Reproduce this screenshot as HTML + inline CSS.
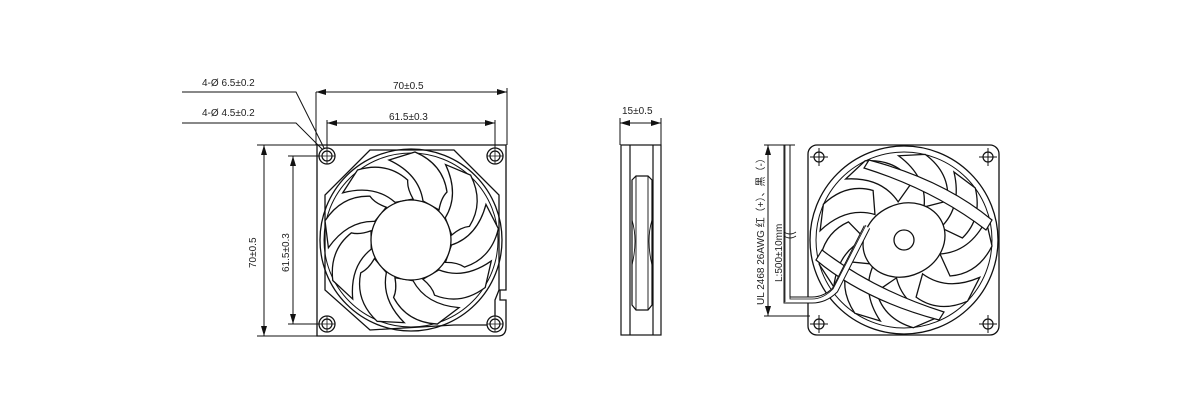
<!DOCTYPE html>
<html><head><style>
html,body{margin:0;padding:0;background:#fff;width:1182px;height:414px;overflow:hidden}
svg{display:block}
text{font-family:"Liberation Sans","Noto Sans CJK SC",sans-serif;font-size:10px;fill:#222}
</style></head><body>
<svg width="1182" height="414" viewBox="0 0 1182 414" xmlns="http://www.w3.org/2000/svg">
<defs>
<marker id="a" viewBox="0 0 10 6" refX="10" refY="3" markerWidth="10" markerHeight="6" orient="auto-start-reverse" markerUnits="userSpaceOnUse"><path d="M0,0L10,3L0,6Z" fill="#111"/></marker>
<path id="bl" d="M12,-39 Q8,-66 -22,-80 L4,-88 Q32,-76 36,-48 Q30,-42 28,-30 Z" fill="#fff" stroke="#111" stroke-width="1.3"/>
<g id="hole"><circle r="8" fill="#fff" stroke="#111" stroke-width="1.3"/><circle r="5" fill="none" stroke="#111" stroke-width="1.2"/><path d="M-8,0H8M0,-8V8" stroke="#111" stroke-width="0.8"/></g>
<g id="cross"><circle r="5" fill="#fff" stroke="#111" stroke-width="1.2"/><path d="M-9,0H9M0,-9V9" stroke="#111" stroke-width="1"/></g>
<path id="bl2" d="M14,-36 Q12,-66 -20,-82 L6,-88 Q34,-74 36,-46 Z" fill="#fff" stroke="#111" stroke-width="1.3"/>
</defs>
<g fill="none" stroke="#111" stroke-width="1">
<!-- left fan dims -->
<path d="M316,145V92M507,145V88M327,150V120M495,150V120"/>
<line x1="316" y1="92" x2="507" y2="92" marker-start="url(#a)" marker-end="url(#a)"/>
<line x1="327" y1="123" x2="495" y2="123" marker-start="url(#a)" marker-end="url(#a)"/>
<path d="M257,145H317M257,336H317M288,156H325M288,324H325"/>
<line x1="264" y1="145" x2="264" y2="336" marker-start="url(#a)" marker-end="url(#a)"/>
<line x1="293" y1="156" x2="293" y2="324" marker-start="url(#a)" marker-end="url(#a)"/>
<path d="M182,92H296L325,150M182,123H296L323,150"/>
<!-- frame -->
<path d="M317,145H506V290L500,290V300H506V327Q506,336 498,336H317Z" stroke-width="1.3"/>
<path d="M370,150H454L499,195V290L495,300V325H454L370,330L325,290V195Z" stroke-width="1.3"/>
<circle cx="411" cy="240" r="91" stroke-width="1.3"/>
<circle cx="411" cy="240" r="87" stroke-width="1"/>
</g>
<g transform="translate(411,240)">
<use href="#bl" transform="rotate(0)"/><use href="#bl" transform="rotate(40)"/><use href="#bl" transform="rotate(80)"/><use href="#bl" transform="rotate(120)"/><use href="#bl" transform="rotate(160)"/><use href="#bl" transform="rotate(200)"/><use href="#bl" transform="rotate(240)"/><use href="#bl" transform="rotate(280)"/><use href="#bl" transform="rotate(320)"/>
<circle r="40" fill="#fff" stroke="#111" stroke-width="1.3"/>
</g>
<use href="#hole" x="327" y="156"/><use href="#hole" x="495" y="156"/><use href="#hole" x="327" y="324"/><use href="#hole" x="495" y="324"/>
<text x="202" y="86">4-Ø 6.5±0.2</text>
<text x="202" y="116">4-Ø 4.5±0.2</text>
<text x="393" y="89">70±0.5</text>
<text x="389" y="120">61.5±0.3</text>
<text transform="translate(256,268) rotate(-90)">70±0.5</text>
<text transform="translate(289,272) rotate(-90)">61.5±0.3</text>
<!-- side view -->
<g fill="none" stroke="#111" stroke-width="1.2">
<rect x="621" y="145" width="40" height="190"/>
<path d="M630,145V335M653,145V335"/>
<path d="M632,180L636,176H648L652,180V305L648,310H636L632,305Z"/>
<path d="M636,176V310M648,176V310M632,220Q638,240 632,265M652,220Q646,240 652,265" stroke-width="0.9"/>
<path d="M620,145V118M661,145V118" stroke-width="1"/>
<line x1="620" y1="123" x2="661" y2="123" stroke-width="1" marker-start="url(#a)" marker-end="url(#a)"/>
</g>
<text x="622" y="114">15±0.5</text>
<!-- right fan -->
<g fill="none" stroke="#111" stroke-width="1.3">
<rect x="808" y="145" width="191" height="190" rx="9"/>
<circle cx="904" cy="240" r="94"/>
<circle cx="904" cy="240" r="88" stroke-width="1"/>
</g>
<g transform="translate(904,240)">
<use href="#bl2" transform="rotate(10)"/><use href="#bl2" transform="rotate(50)"/><use href="#bl2" transform="rotate(90)"/><use href="#bl2" transform="rotate(130)"/><use href="#bl2" transform="rotate(170)"/><use href="#bl2" transform="rotate(210)"/><use href="#bl2" transform="rotate(250)"/><use href="#bl2" transform="rotate(290)"/><use href="#bl2" transform="rotate(330)"/>
<path d="M-35,-80 Q40,-60 88,-20 L82,-10 Q30,-50 -40,-72Z" fill="#fff" stroke="#111" stroke-width="1.2"/>
<path d="M35,80 Q-40,60 -88,20 L-82,10 Q-30,50 40,72Z" fill="#fff" stroke="#111" stroke-width="1.2"/>
<ellipse rx="42" ry="36" transform="rotate(-25)" fill="#fff" stroke="#111" stroke-width="1.3"/>
<circle r="10" fill="#fff" stroke="#111" stroke-width="1.3"/>
</g>
<use href="#cross" x="819" y="157"/><use href="#cross" x="988" y="157"/><use href="#cross" x="819" y="324"/><use href="#cross" x="988" y="324"/>
<!-- wire -->
<g fill="none" stroke="#111">
<path d="M787,145V300H812Q825,300 835,290L867,227" stroke-width="7"/>
<path d="M787,145V300H812Q825,300 835,290L867,227" stroke="#fff" stroke-width="5"/>
<path d="M790,145V299H812Q823,299 833,289L866,225M785,145V302" stroke-width="0.8"/>
<path d="M784,232Q790,236 796,232M784,236Q790,240 796,236" stroke-width="0.8"/>
<path d="M764,145H795M764,316H810" stroke-width="1"/>
<line x1="768" y1="145" x2="768" y2="316" stroke-width="1" marker-start="url(#a)" marker-end="url(#a)"/>
</g>
<text transform="translate(764,305) rotate(-90)">UL 2468 26AWG 红（+）、黑（-）</text>
<text transform="translate(782,282) rotate(-90)">L:500±10mm</text>
</svg>
</body></html>
